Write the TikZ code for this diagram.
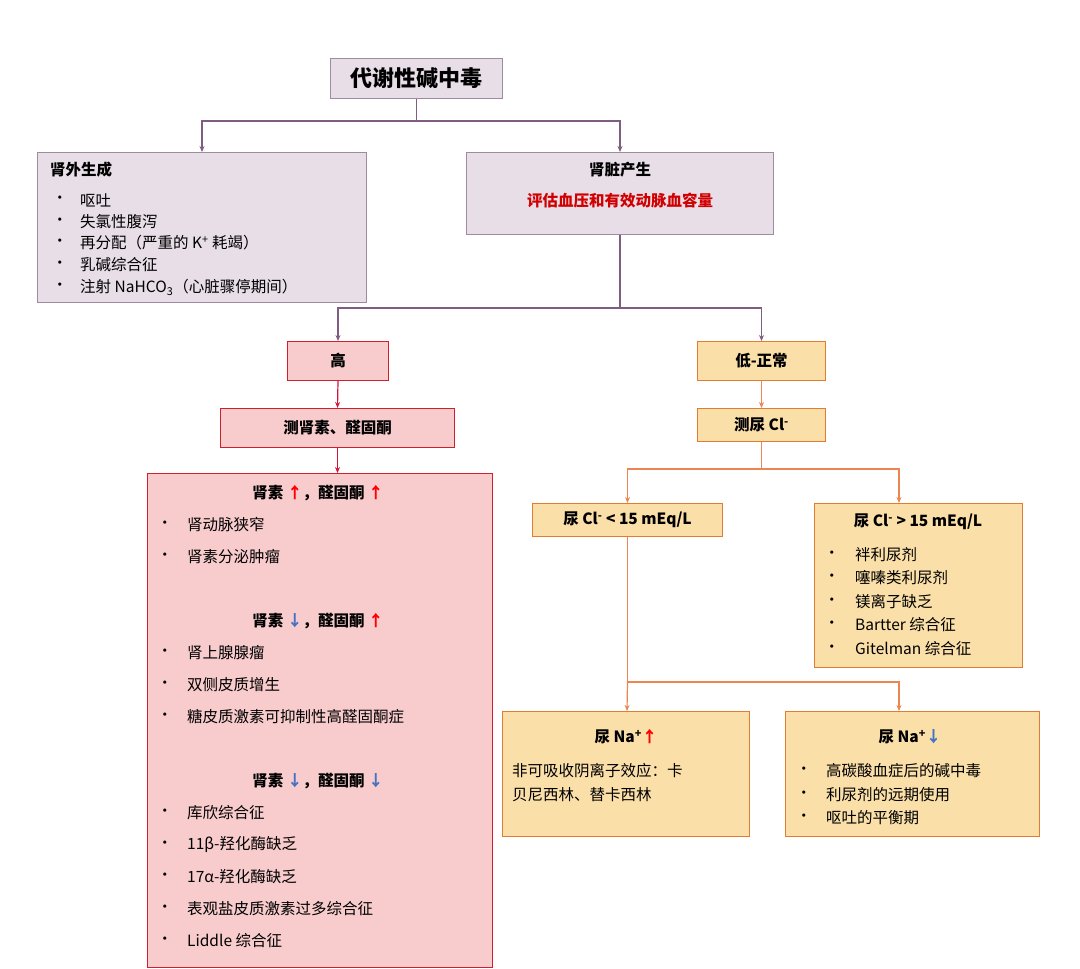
\documentclass[tikz,border=0pt]{standalone}
\usepackage{fontspec}
\setmainfont{Noto Sans CJK SC}
\usetikzlibrary{arrows.meta}
\definecolor{lav}{HTML}{E8DEE7}
\definecolor{lavb}{HTML}{A08AA2}
\definecolor{purp}{HTML}{7E5D80}
\definecolor{pinkf}{HTML}{F8CBCC}
\definecolor{redb}{HTML}{D0202E}
\definecolor{redl}{HTML}{D4143C}
\definecolor{orf}{HTML}{FADFA8}
\definecolor{orb}{HTML}{E07C34}
\definecolor{orl}{HTML}{EE8450}
\definecolor{upr}{HTML}{FF0000}
\definecolor{dnb}{HTML}{4472C4}
\definecolor{titr}{HTML}{D00000}
\tikzset{
 box/.style={draw,line width=1pt,inner sep=0pt,anchor=north west},
 lbox/.style={box,fill=lav,draw=lavb},
 pbox/.style={box,fill=pinkf,draw=redb},
 obox/.style={box,fill=orf,draw=orb},
 t/.style={inner sep=0pt,font=\fontsize{15.5}{18}\selectfont},
 tb/.style={t,font=\fontsize{15.5}{18}\selectfont\bfseries},
 arr/.style={line width=1.2pt,-{Stealth[length=6pt,width=5pt]}},
 ln/.style={line width=1.2pt}
}
\newcommand{\up}{\textcolor{upr}{↑}}
\newcommand{\dn}{\textcolor{dnb}{↓}}
\begin{document}
\begin{tikzpicture}[x=1pt,y=-1pt]
\useasboundingbox (0,0) rectangle (1080,969);
% boxes
\node[lbox,minimum width=172,minimum height=40] (top) at (330,58) {};
\node[font=\fontsize{22}{26}\selectfont\bfseries,inner sep=0pt] (topt) at (top.center) {代谢性碱中毒};
\node[lbox,minimum width=329,minimum height=150] (ext) at (37,152) {};
\node[lbox,minimum width=307,minimum height=82] (ren) at (466,152) {};
\node[pbox,minimum width=101,minimum height=39] (hi) at (287,341) {};
\node[pbox,minimum width=234,minimum height=39] (mr) at (220,408) {};
\node[pbox,minimum width=345,minimum height=494] (big) at (147,473) {};
\node[obox,minimum width=128,minimum height=39] (lo) at (697,341) {};
\node[obox,minimum width=128,minimum height=33] (mc) at (697,408) {};
\node[obox,minimum width=190,minimum height=33] (cl1) at (532,503) {};
\node[obox,minimum width=208,minimum height=164] (cl2) at (814,503) {};
\node[obox,minimum width=247,minimum height=125] (na1) at (502,711) {};
\node[obox,minimum width=254,minimum height=125] (na2) at (785,711) {};
% texts
\node[tb] (hit) at (hi.center) {高};
\node[tb] (mrt) at (mr.center) {测肾素、醛固酮};
\node[tb] (lot) at (lo.center) {低-正常};
\node[tb] (mct) at (mc.center) {测尿 Cl\textsuperscript{-}};
\node[tb] (cl1t) at (cl1.center) {尿 Cl\textsuperscript{-} < 15 mEq/L};
\node[tb] (cl2t) at (918,522) {尿 Cl\textsuperscript{-} > 15 mEq/L};
\node[tb,anchor=west] (extt) at (50,170) {肾外生成};
\node[tb] (rent) at (620,170) {肾脏产生};
\node[tb,text=titr] (rent2) at (620,201) {评估血压和有效动脉血容量};
\foreach \y/\s [count=\i] in {200/呕吐/鼻饲,222/失氯性腹泻,243/{再分配（严重的 K\textsuperscript{+} 耗竭）},265/乳碱综合征,287/{注射 NaHCO\textsubscript{3}（心脏骤停期间）}}{
 \node[t,anchor=west] (eb\i) at (52,\y) {•};
 \node[t,anchor=west] (e\i) at (80,\y) {\s};
}
\node[tb] (h1) at (318,493) {肾素 \up，醛固酮 \up};
\node[tb] (h2) at (318,621) {肾素 \dn，醛固酮 \up};
\node[tb] (h3) at (318,781) {肾素 \dn，醛固酮 \dn};
\foreach \y/\s [count=\i] in {525/肾动脉狭窄,557/肾素分泌肿瘤,653/肾上腺腺瘤,685/双侧皮质增生,717/糖皮质激素可抑制性高醛固酮症,813/库欣综合征,845/11β-羟化酶缺乏,877/17α-羟化酶缺乏,909/表观盐皮质激素过多综合征,941/Liddle 综合征}{
 \node[t,anchor=west] (bb\i) at (157,\y) {•};
 \node[t,anchor=west] (b\i) at (187,\y) {\s};
}
\foreach \y/\s [count=\i] in {555/袢利尿剂,578/噻嗪类利尿剂,602/镁离子缺乏,625/Bartter 综合征,649/Gitelman 综合征}{
 \node[t,anchor=west] (cb\i) at (824,\y) {•};
 \node[t,anchor=west] (c\i) at (855,\y) {\s};
}
\node[tb] (n1t) at (626,737) {尿 Na\textsuperscript{+}\up};
\node[t,anchor=west] (n1a) at (512,771) {非可吸收阴离子效应：卡};
\node[t,anchor=west] (n1b) at (512,795) {贝尼西林、替卡西林};
\node[tb] (n2t) at (910,737) {尿 Na\textsuperscript{+}\dn};
\foreach \y/\s [count=\i] in {771/高碳酸血症后的碱中毒,795/利尿剂的远期使用,818/呕吐的平衡期}{
 \node[t,anchor=west] (nb\i) at (796,\y) {•};
 \node[t,anchor=west] (n\i) at (826,\y) {\s};
}
% connectors
\draw[ln,purp] (top.south) -- ++(0,22) coordinate (j1);
\draw[arr,purp] (j1) -| (ext.north);
\draw[arr,purp] (j1) -| (ren.north);
\draw[ln,purp] (ren.south) -- ++(0,73) coordinate (j2);
\draw[arr,purp] (j2) -| (hi.north);
\draw[arr,purp] (j2) -| (lo.north);
\draw[arr,redl] (hi.south) -- (mr.north);
\draw[arr,redl] (mr.south) -- (big.north -| mr.south);
\draw[arr,orl] (lo.south) -- (mc.north);
\draw[ln,orl] (mc.south) -- ++(0,27) coordinate (j3);
\coordinate (c2in) at (899,503);
\draw[arr,orl] (j3) -| (cl1.north);
\draw[arr,orl] (j3) -| (c2in);
\draw[ln,orl] (cl1.south) -- ++(0,145) coordinate (j4);
\coordinate (n1in) at (627,711);
\coordinate (n2in) at (899,711);
\draw[arr,orl] (j4) -- (n1in);
\draw[arr,orl] (j4) -| (n2in);
\end{tikzpicture}
\end{document}
